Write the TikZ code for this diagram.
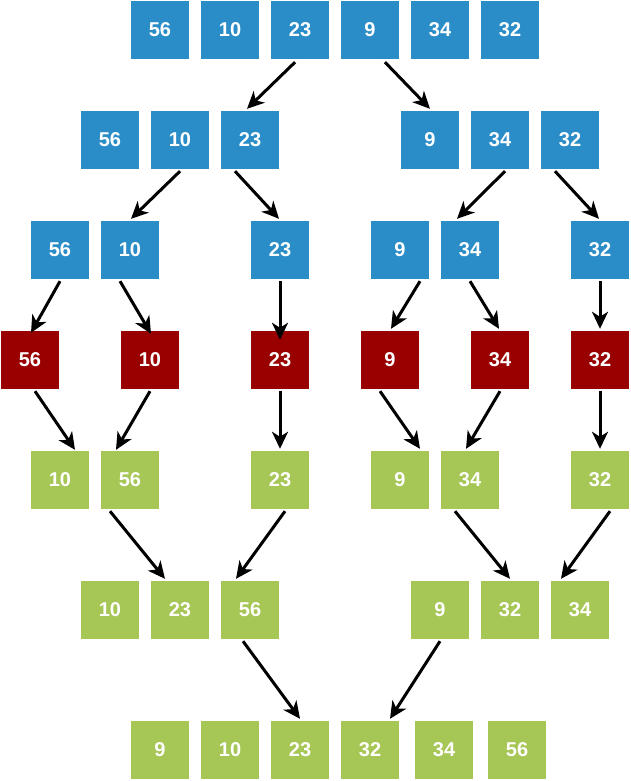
\documentclass[tikz,border=0pt]{standalone}
\usepackage{fontspec}
\setmainfont{Liberation Sans}
\usetikzlibrary{arrows.meta}
\definecolor{bblue}{HTML}{2A8DC8}
\definecolor{bred}{HTML}{990000}
\definecolor{bgreen}{HTML}{A6C655}
\tikzset{
  box/.style={minimum width=58pt,minimum height=58pt,inner sep=0pt,text=white,font=\fontsize{20}{20}\selectfont\bfseries},
  bbox/.style={box,fill=bblue},
  rbox/.style={box,fill=bred},
  gbox/.style={box,fill=bgreen},
  arr/.style={draw=black,line width=3pt,-{Stealth[length=17pt,width=16pt,inset=5pt]}}
}
\begin{document}
\begin{tikzpicture}[x=1pt,y=-1pt]
\useasboundingbox (0,0) rectangle (631,781);
% row 1
\foreach \n/\x/\t in {1/160/56,2/230/10,3/300/23,4/370/9,5/440/34,6/510/32}
  \node[bbox] (r1c\n) at (\x,30) {\t};
% row 2
\foreach \n/\x/\t in {1/110/56,2/180/10,3/250/23,4/430/9,5/500/34,6/570/32}
  \node[bbox] (r2c\n) at (\x,140) {\t};
% row 3
\foreach \n/\x/\t in {1/60/56,2/130/10,3/280/23,4/400/9,5/470/34,6/600/32}
  \node[bbox] (r3c\n) at (\x,250) {\t};
% row 4
\foreach \n/\x/\t in {1/30/56,2/150/10,3/280/23,4/390/9,5/500/34,6/600/32}
  \node[rbox] (r4c\n) at (\x,360) {\t};
% row 5
\foreach \n/\x/\t in {1/60/10,2/130/56,3/280/23,4/400/9,5/470/34,6/600/32}
  \node[gbox] (r5c\n) at (\x,480) {\t};
% row 6
\foreach \n/\x/\t in {1/110/10,2/180/23,3/250/56,4/440/9,5/510/32,6/580/34}
  \node[gbox] (r6c\n) at (\x,610) {\t};
% row 7
\foreach \n/\x/\t in {1/160/9,2/230/10,3/300/23,4/370/32,5/444/34,6/517/56}
  \node[gbox] (r7c\n) at (\x,750) {\t};
% arrows
\draw[arr] ([shift={(-5,3)}]r1c3.south) -- ([shift={(-3,-2)}]r2c3.north);
\draw[arr] ([shift={(15,3)}]r1c4.south) -- ([shift={(0,-2)}]r2c4.north);
\draw[arr] ([shift={(0,2)}]r2c2.south) -- ([shift={(1,-2)}]r3c2.north);
\draw[arr] ([shift={(-15,2)}]r2c3.south) -- ([shift={(-1,-2)}]r3c3.north);
\draw[arr] ([shift={(5,2)}]r2c5.south) -- ([shift={(-13,-2)}]r3c5.north);
\draw[arr] ([shift={(-15,2)}]r2c6.south) -- ([shift={(-1,-2)}]r3c6.north);
\draw[arr] ([shift={(0,2)}]r3c1.south) -- ([shift={(1,2)}]r4c1.north);
\draw[arr] ([shift={(-10,2)}]r3c2.south) -- ([shift={(1,3)}]r4c2.north);
\draw[arr] ([shift={(0,2)}]r3c3.south) -- ([shift={(0,9)}]r4c3.north);
\draw[arr] ([shift={(20,2)}]r3c4.south) -- ([shift={(1,-2)}]r4c4.north);
\draw[arr] ([shift={(0,2)}]r3c5.south) -- ([shift={(-1,-2)}]r4c5.north);
\draw[arr] ([shift={(0,2)}]r3c6.south) -- ([shift={(0,-2)}]r4c6.north);
\draw[arr] ([shift={(5,2)}]r4c1.south) -- ([shift={(15,-1)}]r5c1.north);
\draw[arr] ([shift={(0,2)}]r4c2.south) -- ([shift={(-14,-1)}]r5c2.north);
\draw[arr] ([shift={(0,2)}]r4c3.south) -- ([shift={(0,-2)}]r5c3.north);
\draw[arr] ([shift={(-10,2)}]r4c4.south) -- ([shift={(20,-2)}]r5c4.north);
\draw[arr] ([shift={(0,2)}]r4c5.south) -- ([shift={(-4,-2)}]r5c5.north);
\draw[arr] ([shift={(0,2)}]r4c6.south) -- ([shift={(0,-2)}]r5c6.north);
\draw[arr] ([shift={(-20,2)}]r5c2.south) -- ([shift={(-15,-2)}]r6c2.north);
\draw[arr] ([shift={(5,2)}]r5c3.south) -- ([shift={(-14,-2)}]r6c3.north);
\draw[arr] ([shift={(-15,2)}]r5c5.south) -- ([shift={(0,-2)}]r6c5.north);
\draw[arr] ([shift={(10,2)}]r5c6.south) -- ([shift={(-19,-2)}]r6c6.north);
\draw[arr] ([shift={(-7,2)}]r6c3.south) -- ([shift={(0,-2)}]r7c3.north);
\draw[arr] ([shift={(0,2)}]r6c4.south) -- ([shift={(20,-2)}]r7c4.north);
\end{tikzpicture}
\end{document}
